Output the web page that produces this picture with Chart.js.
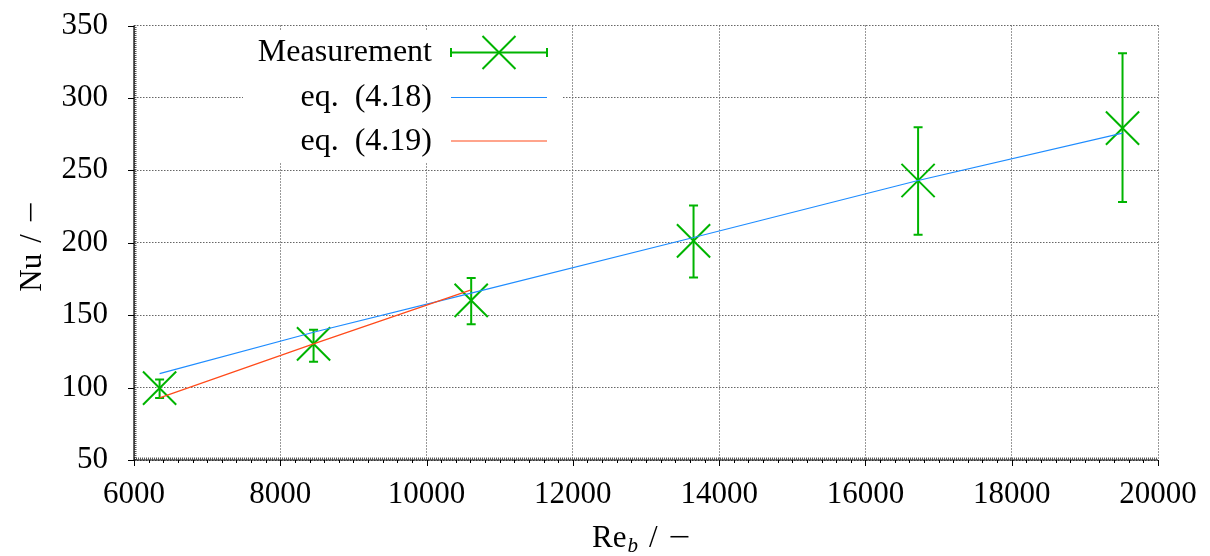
<!DOCTYPE html>
<html>
<head>
<meta charset="utf-8">
<script src="https://cdn.jsdelivr.net/npm/chart.js@4/dist/chart.umd.min.js"></script>
<style>
  html, body { margin: 0; padding: 0; background: #fff; }
  #wrap { width: 1210px; height: 556px; }
</style>
</head>
<body>
<div id="wrap"><canvas id="c" width="1210" height="556"></canvas></div>
<script>
// Bulk Reynolds number of each measurement
const reB = [6350, 8455, 10610, 13650, 16720, 19515];
// Measured Nusselt number with its uncertainty band
const nuMeas = [99.6, 130.2, 160.2, 201.3, 243.0, 279.1];
const nuLow = [92.8, 117.8, 143.7, 176.0, 205.5, 228.1];
const nuHigh = [105.6, 140.0, 175.7, 225.8, 279.8, 330.8];
// Correlations evaluated at the measured Reynolds numbers
const nuEq418 = [109.6, 138.2, 165.2, 203.6, 243.0, 275.7];
const reEq419 = [6350, 8455, 10610];
const nuEq419 = [92.9, 130.2, 167.5];
// Axis ticks
const xTicks = [6000, 8000, 10000, 12000, 14000, 16000, 18000, 20000];
const yTicks = [50, 100, 150, 200, 250, 300, 350];
const legendLabels = ['Measurement', 'eq.  (4.18)', 'eq.  (4.19)'];

const GREEN = '#00b400';
const BLUE = '#1e8cff';
const RED = '#ff4a1a';
const FONT = '"Liberation Serif", "DejaVu Serif", serif';

const pts = (xs, ys) => xs.map((x, i) => ({ x: x, y: ys[i] }));

function drawCross(ctx, x, y, h) {
  ctx.beginPath();
  ctx.moveTo(x - h, y - h); ctx.lineTo(x + h, y + h);
  ctx.moveTo(x - h, y + h); ctx.lineTo(x + h, y - h);
  ctx.stroke();
}

// "Re_b / −" or "Nu / −" laid out piece by piece, starting at offset u0
function drawTitle(ctx, u0, v, head, subText, gap) {
  ctx.textAlign = 'left';
  ctx.font = '31px ' + FONT;
  ctx.fillText(head, u0, v);
  let u = u0 + ctx.measureText(head).width;
  if (subText) {
    ctx.font = 'italic 21px ' + FONT;
    ctx.fillText(subText, u + 1, v + 5);
    u += ctx.measureText(subText).width + 1;
  }
  ctx.font = '31px ' + FONT;
  u += gap;
  ctx.fillText('/', u, v);
  u += ctx.measureText('/').width + gap;
  ctx.save();
  ctx.translate(u, v);
  ctx.scale(1.25, 1);
  ctx.fillText('\u2212', 0, 0);
  ctx.restore();
}

const decor = {
  id: 'decor',
  beforeDatasetsDraw(chart) {
    const ctx = chart.ctx, xs = chart.scales.x, ys = chart.scales.y;
    ctx.save();
    // opaque key background hides the grid behind it
    ctx.fillStyle = '#fff';
    ctx.fillRect(243, 30, 320, 132);
    // vertical error bars of the measurements
    ctx.strokeStyle = GREEN;
    ctx.lineWidth = 2;
    reB.forEach((r, i) => {
      const px = xs.getPixelForValue(r);
      const lo = ys.getPixelForValue(nuLow[i]);
      const hi = ys.getPixelForValue(nuHigh[i]);
      ctx.beginPath();
      ctx.moveTo(px, lo); ctx.lineTo(px, hi);
      ctx.moveTo(px - 4.5, lo); ctx.lineTo(px + 4.5, lo);
      ctx.moveTo(px - 4.5, hi); ctx.lineTo(px + 4.5, hi);
      ctx.stroke();
    });
    ctx.restore();
  },
  afterDraw(chart) {
    const ctx = chart.ctx, xs = chart.scales.x, ys = chart.scales.y;
    const a = chart.chartArea;
    ctx.save();
    // minor tick texture along the axes
    ctx.strokeStyle = '#555';
    ctx.lineWidth = 2;
    ctx.setLineDash([1, 1]);
    ctx.beginPath();
    ctx.moveTo(a.left + 1.5, a.bottom); ctx.lineTo(a.left + 1.5, a.top);
    ctx.moveTo(a.left, a.bottom - 1.5); ctx.lineTo(a.right, a.bottom - 1.5);
    ctx.stroke();
    ctx.setLineDash([]);
    // solid axes
    ctx.strokeStyle = '#000';
    ctx.lineWidth = 1.2;
    ctx.beginPath();
    ctx.moveTo(a.left, a.top); ctx.lineTo(a.left, a.bottom); ctx.lineTo(a.right, a.bottom);
    ctx.stroke();
    // major and minor tick marks
    ctx.lineWidth = 1;
    ctx.beginPath();
    yTicks.forEach(v => {
      const py = Math.round(ys.getPixelForValue(v)) + 0.5;
      ctx.moveTo(a.left - 6, py); ctx.lineTo(a.left, py);
    });
    for (let v = xTicks[0]; v <= xTicks[xTicks.length - 1]; v += 200) {
      const px = Math.round(xs.getPixelForValue(v)) + 0.5;
      const len = (v % 2000 === 0) ? 6 : 3;
      ctx.moveTo(px, a.bottom); ctx.lineTo(px, a.bottom + len);
    }
    ctx.stroke();

    // axis titles
    ctx.fillStyle = '#000';
    ctx.textBaseline = 'alphabetic';
    const cx = (a.left + a.right) / 2;
    drawTitle(ctx, cx - 54, 547, 'Re', 'b', 11);

    const cy = (a.top + a.bottom) / 2;
    ctx.save();
    ctx.translate(41, cy);
    ctx.rotate(-Math.PI / 2);
    drawTitle(ctx, -49, 0, 'Nu', '', 11);
    ctx.restore();

    // key
    const kx1 = 451, kx2 = 547, kxm = (kx1 + kx2) / 2;
    const rows = [52.5, 97.5, 141];
    ctx.textAlign = 'right';
    ctx.font = '32px ' + FONT;
    legendLabels.forEach((t, i) => ctx.fillText(t, 432, rows[i] + 8.5));
    ctx.strokeStyle = GREEN;
    ctx.lineWidth = 2;
    ctx.beginPath();
    ctx.moveTo(kx1, rows[0]); ctx.lineTo(kx2, rows[0]);
    ctx.moveTo(kx1, rows[0] - 4.5); ctx.lineTo(kx1, rows[0] + 4.5);
    ctx.moveTo(kx2, rows[0] - 4.5); ctx.lineTo(kx2, rows[0] + 4.5);
    ctx.stroke();
    drawCross(ctx, kxm, rows[0], 16.5);
    ctx.lineWidth = 1.2;
    ctx.strokeStyle = BLUE;
    ctx.beginPath(); ctx.moveTo(kx1, rows[1]); ctx.lineTo(kx2, rows[1]); ctx.stroke();
    ctx.strokeStyle = RED;
    ctx.beginPath(); ctx.moveTo(kx1, rows[2]); ctx.lineTo(kx2, rows[2]); ctx.stroke();
    ctx.restore();
  }
};

new Chart(document.getElementById('c'), {
  type: 'scatter',
  data: {
    datasets: [
      {
        label: legendLabels[0],
        data: pts(reB, nuMeas),
        pointStyle: 'crossRot',
        pointRadius: 23.5,
        pointHoverRadius: 23.5,
        borderColor: GREEN,
        backgroundColor: GREEN,
        pointBorderWidth: 2,
        showLine: false,
        order: 3,
        clip: false
      },
      {
        label: legendLabels[1],
        data: pts(reB, nuEq418),
        showLine: true,
        pointRadius: 0,
        borderColor: BLUE,
        borderWidth: 1.2,
        order: 2
      },
      {
        label: legendLabels[2],
        data: pts(reEq419, nuEq419),
        showLine: true,
        pointRadius: 0,
        borderColor: RED,
        borderWidth: 1.2,
        order: 1
      }
    ]
  },
  options: {
    responsive: false,
    animation: false,
    events: [],
    layout: { padding: { left: 0, top: 23, right: 52, bottom: 0 } },
    plugins: { legend: { display: false }, tooltip: { enabled: false } },
    scales: {
      x: {
        type: 'linear',
        min: xTicks[0],
        max: xTicks[xTicks.length - 1],
        afterBuildTicks: s => { s.ticks = xTicks.map(v => ({ value: v })); },
        afterFit: s => { s.height = 96; s.paddingLeft = 0; s.paddingRight = 0; },
        grid: { color: '#333', lineWidth: 1, drawTicks: false },
        border: { display: false, dash: [1, 2] },
        ticks: {
          padding: 16,
          color: '#000',
          font: { family: FONT, size: 31 },
          maxRotation: 0,
          callback: v => String(v)
        }
      },
      y: {
        type: 'linear',
        min: yTicks[0],
        max: yTicks[yTicks.length - 1],
        afterBuildTicks: s => { s.ticks = yTicks.map(v => ({ value: v })); },
        afterFit: s => { s.width = 134; s.paddingTop = 0; s.paddingBottom = 0; },
        grid: { color: '#666', lineWidth: 1, drawTicks: false },
        border: { display: false, dash: [1.5, 1.5] },
        ticks: {
          padding: 26,
          color: '#000',
          font: { family: FONT, size: 31 },
          callback: v => String(v)
        }
      }
    }
  },
  plugins: [decor]
});
</script>
</body>
</html>
